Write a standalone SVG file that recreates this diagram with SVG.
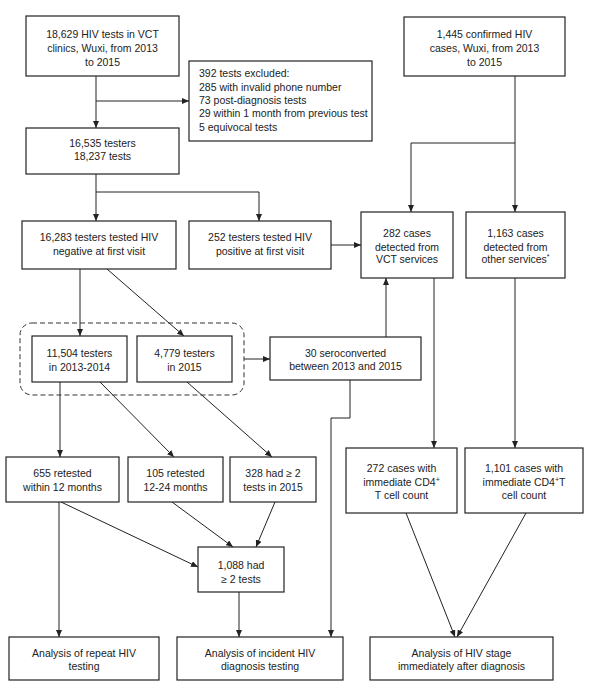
<svg xmlns="http://www.w3.org/2000/svg" width="602" height="688" viewBox="0 0 602 688">
<style>
.box{fill:#fff;stroke:#222;stroke-width:1.2}
.dash{fill:none;stroke:#333;stroke-width:1;stroke-dasharray:5,3}
.c{fill:none;stroke:#222;stroke-width:1}
text{font-family:"Liberation Sans",Arial,sans-serif;font-size:10.5px;fill:#222}
.m{text-anchor:middle}
</style>
<defs>
<marker id="ah" markerWidth="8" markerHeight="6" refX="7" refY="3" orient="auto" markerUnits="userSpaceOnUse">
<path d="M0,0 L7,3 L0,6 Z" fill="#222"/>
</marker>
</defs>
<rect width="602" height="688" fill="#fff"/>

<g id="connectors">
<path class="c" d="M96,76 V128" marker-end="url(#ah)"/>
<path class="c" d="M96,101 H189" marker-end="url(#ah)"/>
<path class="c" d="M96,174 V221" marker-end="url(#ah)"/>
<path class="c" d="M96,192 H259 V221" marker-end="url(#ah)"/>
<path class="c" d="M331,245 H361" marker-end="url(#ah)"/>
<path class="c" d="M515,76 V212" marker-end="url(#ah)"/>
<path class="c" d="M515,143 H411 V212" marker-end="url(#ah)"/>
<path class="c" d="M80,269 V336" marker-end="url(#ah)"/>
<path class="c" d="M107,269 L184,336" marker-end="url(#ah)"/>
<path class="c" d="M244,359 H270" marker-end="url(#ah)"/>
<path class="c" d="M386,337 V278" marker-end="url(#ah)"/>
<path class="c" d="M350,380 V418 H331 V637" marker-end="url(#ah)"/>
<path class="c" d="M434,278 V448" marker-end="url(#ah)"/>
<path class="c" d="M515,278 V448" marker-end="url(#ah)"/>
<path class="c" d="M60,382 V457" marker-end="url(#ah)"/>
<path class="c" d="M100,382 L174,457" marker-end="url(#ah)"/>
<path class="c" d="M187,382 L272,457" marker-end="url(#ah)"/>
<path class="c" d="M59,502 V637" marker-end="url(#ah)"/>
<path class="c" d="M61,502 L198,567" marker-end="url(#ah)"/>
<path class="c" d="M172,502 L233,547" marker-end="url(#ah)"/>
<path class="c" d="M275,502 L256,547" marker-end="url(#ah)"/>
<path class="c" d="M239,592 V637" marker-end="url(#ah)"/>
<path class="c" d="M406,513 L455,637" marker-end="url(#ah)"/>
<path class="c" d="M526,513 L457,637" marker-end="url(#ah)"/>
</g>

<g id="group2013">
<rect class="dash" x="20" y="323" width="224" height="72" rx="12"/>
</g>

<g id="n1"><rect class="box" x="26" y="16" width="153" height="60"/>
<text class="m" x="102.5" y="38">18,629 HIV tests in VCT</text>
<text class="m" x="102.5" y="52">clinics, Wuxi, from 2013</text>
<text class="m" x="102.5" y="66">to 2015</text></g>

<g id="excluded"><rect class="box" x="189" y="61" width="183" height="80"/>
<text x="199" y="77">392 tests excluded:</text>
<text x="199" y="91">285 with invalid phone number</text>
<text x="199" y="104">73 post-diagnosis tests</text>
<text x="199" y="117">29 within 1 month from previous test</text>
<text x="199" y="131">5 equivocal tests</text></g>

<g id="n2"><rect class="box" x="26" y="128" width="153" height="46"/>
<text class="m" x="102.5" y="147">16,535 testers</text>
<text class="m" x="102.5" y="160">18,237 tests</text></g>

<g id="neg"><rect class="box" x="22" y="221" width="154" height="48"/>
<text class="m" x="99" y="241">16,283 testers tested HIV</text>
<text class="m" x="99" y="255">negative at first visit</text></g>

<g id="pos"><rect class="box" x="189" y="221" width="142" height="48"/>
<text class="m" x="260" y="241">252 testers tested HIV</text>
<text class="m" x="260" y="255">positive at first visit</text></g>

<g id="confirmed"><rect class="box" x="404" y="17" width="161" height="59"/>
<text class="m" x="484.5" y="38">1,445 confirmed HIV</text>
<text class="m" x="484.5" y="52">cases, Wuxi, from 2013</text>
<text class="m" x="484.5" y="66">to 2015</text></g>

<g id="vct"><rect class="box" x="361" y="212" width="92" height="66"/>
<text class="m" x="407" y="237">282 cases</text>
<text class="m" x="407" y="251">detected from</text>
<text class="m" x="407" y="263">VCT services</text></g>

<g id="other"><rect class="box" x="466" y="212" width="99" height="66"/>
<text class="m" x="515.5" y="237">1,163 cases</text>
<text class="m" x="515.5" y="251">detected from</text>
<text class="m" x="515.5" y="263">other services<tspan font-size="7" dy="-4">*</tspan></text></g>

<g id="t1"><rect class="box" x="32" y="336" width="95" height="46"/>
<text class="m" x="79.5" y="357">11,504 testers</text>
<text class="m" x="79.5" y="371">in 2013-2014</text></g>

<g id="t2"><rect class="box" x="137" y="336" width="95" height="46"/>
<text class="m" x="184.5" y="357">4,779 testers</text>
<text class="m" x="184.5" y="371">in 2015</text></g>

<g id="sero"><rect class="box" x="270" y="337" width="151" height="43"/>
<text class="m" x="345.5" y="357">30 seroconverted</text>
<text class="m" x="345.5" y="370">between 2013 and 2015</text></g>

<g id="r1"><rect class="box" x="6" y="457" width="113" height="45"/>
<text class="m" x="62.5" y="477">655 retested</text>
<text class="m" x="62.5" y="491">within 12 months</text></g>

<g id="r2"><rect class="box" x="128" y="457" width="95" height="45"/>
<text class="m" x="175.5" y="477">105 retested</text>
<text class="m" x="175.5" y="491">12-24 months</text></g>

<g id="r3"><rect class="box" x="230" y="457" width="86" height="45"/>
<text class="m" x="273" y="477">328 had ≥ 2</text>
<text class="m" x="273" y="491">tests in 2015</text></g>

<g id="c1"><rect class="box" x="346" y="448" width="111" height="65"/>
<text class="m" x="401.5" y="472">272 cases with</text>
<text class="m" x="401.5" y="486">immediate CD4<tspan font-size="7" dy="-4">+</tspan></text>
<text class="m" x="401.5" y="499">T cell count</text></g>

<g id="c2"><rect class="box" x="465" y="448" width="118" height="65"/>
<text class="m" x="524" y="472">1,101 cases with</text>
<text class="m" x="524" y="486">immediate CD4<tspan font-size="7" dy="-4">+</tspan><tspan dy="4">T</tspan></text>
<text class="m" x="524" y="499">cell count</text></g>

<g id="had"><rect class="box" x="198" y="547" width="86" height="45"/>
<text class="m" x="241" y="569">1,088 had</text>
<text class="m" x="241" y="583">≥ 2 tests</text></g>

<g id="a1"><rect class="box" x="9" y="637" width="150" height="43"/>
<text class="m" x="84" y="657">Analysis of repeat HIV</text>
<text class="m" x="84" y="670">testing</text></g>

<g id="a2"><rect class="box" x="177" y="637" width="166" height="43"/>
<text class="m" x="260" y="657">Analysis of incident HIV</text>
<text class="m" x="260" y="670">diagnosis testing</text></g>

<g id="a3"><rect class="box" x="370" y="637" width="183" height="43"/>
<text class="m" x="461.5" y="657">Analysis of HIV stage</text>
<text class="m" x="461.5" y="670">immediately after diagnosis</text></g>
</svg>
